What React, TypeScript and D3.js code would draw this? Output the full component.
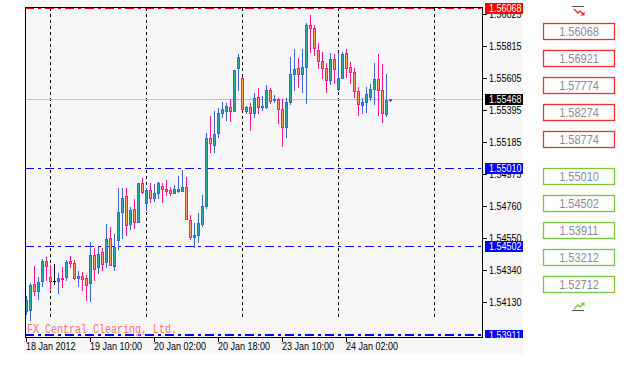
import React from "react";
import * as d3 from "d3";

// H1 bars, 18 Jan 2012 18:00 .. 24 Jan 2012 13:00
const opens = [
  1.54072, 1.54078, 1.54249, 1.54203, 1.54269, 1.54401, 1.54296, 1.54269, 1.54269, 1.54289,
  1.54296, 1.54401, 1.54388, 1.54289, 1.54302, 1.54289, 1.54256, 1.54441, 1.54361, 1.5446,
  1.54394, 1.54553, 1.54368, 1.54539, 1.54724, 1.54829, 1.54645, 1.54744, 1.54658, 1.54915,
  1.54783, 1.54869, 1.54816, 1.54849, 1.54895, 1.54876, 1.54869, 1.54849, 1.54862, 1.54862,
  1.54889, 1.54671, 1.54559, 1.54572, 1.54645, 1.54764, 1.55212, 1.55165, 1.55245, 1.55376,
  1.5539, 1.55416, 1.5539, 1.55673, 1.55607, 1.5539, 1.55416, 1.55376, 1.55482, 1.55416,
  1.55416, 1.55528, 1.55462, 1.55469, 1.55403, 1.55284, 1.55449, 1.55633, 1.55673, 1.55633,
  1.5568, 1.55956, 1.55937, 1.55792, 1.55719, 1.55673, 1.55594, 1.55732, 1.55535, 1.55607,
  1.55772, 1.5568, 1.55647, 1.55521, 1.55429, 1.55449, 1.55482, 1.55535, 1.556, 1.55528,
  1.5537, 1.5546,
];
const highs = [
  1.5417, 1.54256, 1.54368, 1.54296, 1.54414, 1.54427, 1.54375, 1.54381, 1.54322, 1.54361,
  1.54408, 1.54434, 1.54408, 1.54335, 1.54329, 1.54309, 1.54526, 1.54487, 1.54493, 1.54487,
  1.54645, 1.54625, 1.54579, 1.54882, 1.54882, 1.54882, 1.54757, 1.5481, 1.54915, 1.54948,
  1.54882, 1.54915, 1.54908, 1.54922, 1.54915, 1.54935, 1.54889, 1.54902, 1.54961, 1.55001,
  1.54955, 1.54704, 1.54651, 1.54717, 1.54836, 1.55245, 1.55357, 1.5539, 1.55409, 1.55449,
  1.55442, 1.55469, 1.5566, 1.55765, 1.55614, 1.55422, 1.55442, 1.55508, 1.55541, 1.55488,
  1.55561, 1.55541, 1.55495, 1.55475, 1.55469, 1.55475, 1.55745, 1.55798, 1.55739, 1.55798,
  1.55969, 1.56022, 1.55956, 1.55838, 1.55778, 1.55706, 1.55772, 1.55765, 1.55772, 1.55778,
  1.55798, 1.55712, 1.55673, 1.55548, 1.55475, 1.55548, 1.55567, 1.55706, 1.55765, 1.55699,
  1.55633, 1.5547,
];
const lows = [
  1.54052, 1.54012, 1.54177, 1.54151, 1.54236, 1.54276, 1.5421, 1.54249, 1.5419, 1.5423,
  1.54276, 1.54361, 1.54282, 1.54236, 1.5421, 1.54144, 1.54137, 1.54276, 1.54322, 1.54342,
  1.54361, 1.54375, 1.54342, 1.5448, 1.54553, 1.54572, 1.54612, 1.54619, 1.54658, 1.54849,
  1.54737, 1.5479, 1.54796, 1.54816, 1.5479, 1.54836, 1.54836, 1.54849, 1.54856, 1.54862,
  1.54678, 1.54546, 1.54493, 1.54526, 1.54632, 1.5475, 1.55119, 1.55119, 1.55218, 1.5535,
  1.5533, 1.55324, 1.5539, 1.55528, 1.55396, 1.55376, 1.55264, 1.5535, 1.55376, 1.55396,
  1.55409, 1.55442, 1.55449, 1.5531, 1.55159, 1.55218, 1.55436, 1.55528, 1.55548, 1.55515,
  1.55442, 1.55778, 1.55759, 1.55673, 1.55607, 1.55515, 1.55567, 1.55574, 1.55528, 1.55607,
  1.55614, 1.55574, 1.55482, 1.55363, 1.55376, 1.55383, 1.55462, 1.55436, 1.55363, 1.55317,
  1.55357, 1.55455,
];
const closes = [
  1.54144, 1.54243, 1.54203, 1.54263, 1.54401, 1.54368, 1.54269, 1.54269, 1.54289, 1.54282,
  1.54394, 1.54388, 1.54289, 1.54302, 1.54282, 1.54243, 1.54441, 1.54348, 1.54447, 1.54381,
  1.54546, 1.54375, 1.54493, 1.54724, 1.54816, 1.54638, 1.54737, 1.54658, 1.54915, 1.54856,
  1.54869, 1.54816, 1.54849, 1.54915, 1.54876, 1.54862, 1.54849, 1.54876, 1.54876, 1.54889,
  1.54678, 1.54559, 1.54572, 1.54651, 1.54764, 1.55212, 1.55179, 1.55238, 1.55376, 1.55403,
  1.55422, 1.5539, 1.5566, 1.55745, 1.55403, 1.55416, 1.55376, 1.55475, 1.55416, 1.55422,
  1.55528, 1.55455, 1.55469, 1.55403, 1.55284, 1.55449, 1.55633, 1.55666, 1.55633, 1.5568,
  1.55956, 1.55937, 1.55805, 1.55719, 1.55673, 1.55594, 1.55732, 1.55666, 1.55607, 1.55765,
  1.55673, 1.55647, 1.55521, 1.55436, 1.55449, 1.55502, 1.55535, 1.556, 1.55528, 1.55376,
  1.55462, 1.55468,
];

const priceTicks = [1.56025, 1.55815, 1.55605, 1.55395, 1.55185, 1.54975, 1.5476, 1.5455, 1.5434, 1.5413];
const timeLabels = ["18 Jan 2012", "19 Jan 10:00", "20 Jan 02:00", "20 Jan 18:00", "23 Jan 10:00", "24 Jan 02:00"];
const barsPerTimeLabel = 16;
const gridBars = [6, 30, 54, 78, 102];

const currentPrice = 1.55468;
const redLevels = [1.56068];
const blueLevels = [1.5501, 1.54502, 1.53911];

const resistance = [1.56068, 1.56921, 1.57774, 1.58274, 1.58774];
const support = [1.5501, 1.54502, 1.53911, 1.53212, 1.52712];

const BULL_LINE = "#3f63e0";
const BULL_FILL = "#27b0a0";
const BEAR_LINE = "#ff1493";
const BEAR_FILL = "#f4a060";
const SANS = "'Liberation Sans', Arial, sans-serif";

const left = 25, right = 483, top = 7, bottom = 337;

const y = d3.scaleLinear().domain([1.53899, 1.56074]).range([bottom, top]);
const x = d3.scaleLinear().domain([0, 1]).range([26, 30]);
const ry = (v: number) => Math.round(y(v));
const fmt = d3.format(".5f");

const Txt = ({ x, y, s = 0.82, size = 11, fill = "#000", anchor = "start", children }: any) => (
  <text
    transform={`translate(${x},${y}) scale(${s},1)`}
    fontFamily={SANS}
    fontSize={size}
    fill={fill}
    textAnchor={anchor}
  >
    {children}
  </text>
);

const Candles = () => (
  <g>
    {opens.map((o, i) => {
      const c = closes[i];
      const cx = Math.round(x(i));
      const yh = ry(highs[i]);
      const yl = ry(lows[i]);
      if (o === c) {
        const yb = ry(o);
        return (
          <g key={i}>
            <rect x={cx} y={yh} width={1} height={yl - yh + 1} fill="#000" />
            <rect x={cx - 1} y={yb} width={3} height={1} fill="#000" />
          </g>
        );
      }
      const bull = c > o;
      const line = bull ? BULL_LINE : BEAR_LINE;
      const fill = bull ? BULL_FILL : BEAR_FILL;
      const bt = ry(Math.max(o, c));
      const bb = ry(Math.min(o, c));
      return (
        <g key={i}>
          <rect x={cx} y={yh} width={1} height={yl - yh + 1} fill={line} />
          <rect x={cx - 1} y={bt} width={3} height={bb - bt + 1} fill={line} />
          {bb - bt >= 2 && <rect x={cx} y={bt + 1} width={1} height={bb - bt - 1} fill={fill} />}
        </g>
      );
    })}
  </g>
);

const App = () => {
  const priceY = ry(currentPrice);
  return (
    <div style={{ position: "fixed", left: 0, top: 0 }}>
      <svg width={633} height={372} style={{ display: "block", background: "#fff" }}>
        <defs>
          <clipPath id="axisClip">
            <rect x={0} y={0} width={633} height={bottom + 1} />
          </clipPath>
        </defs>
        <rect x={24} y={0} width={499} height={354} fill="#f7f7f7" />

        {/* vertical grid */}
        {gridBars.map((b) => (
          <line
            key={b}
            x1={Math.round(x(b)) + 0.5}
            x2={Math.round(x(b)) + 0.5}
            y1={top + 1}
            y2={318}
            stroke="#000"
            strokeDasharray="3 3"
          />
        ))}

        {/* level lines */}
        {redLevels.map((v) => (
          <line key={v} x1={left} x2={right} y1={ry(v) + 0.5} y2={ry(v) + 0.5} stroke="#ff0000" strokeDasharray="9 4 3 4" />
        ))}
        {blueLevels.map((v, i) => (
          <line
            key={v}
            x1={left}
            x2={right}
            y1={ry(v) + (i === blueLevels.length - 1 ? 0 : 0.5)}
            y2={ry(v) + (i === blueLevels.length - 1 ? 0 : 0.5)}
            stroke="#0000ff"
            strokeWidth={i === blueLevels.length - 1 ? 2 : 1}
            strokeDasharray="9 4 3 4"
          />
        ))}
        <line x1={left} x2={right} y1={priceY + 0.5} y2={priceY + 0.5} stroke="#c0c0c0" />

        <Candles />

        <text x={27} y={333} fontFamily="'Liberation Mono', monospace" fontSize={12} fill="#ff7070" textLength={150} lengthAdjust="spacingAndGlyphs">
          FX Central Clearing, Ltd.
        </text>

        {/* frame */}
        <rect x={left + 0.5} y={top + 0.5} width={right - left - 1} height={bottom - top} fill="none" stroke="#000" />

        {/* price axis */}
        {priceTicks.map((t) => (
          <g key={t}>
            <rect x={right} y={ry(t)} width={4} height={1} fill="#000" />
            <Txt x={489} y={ry(t) + 4}>{fmt(t)}</Txt>
          </g>
        ))}

        {/* time axis */}
        {timeLabels.map((l, k) => {
          const tx = Math.round(x(k * barsPerTimeLabel));
          return (
            <g key={l}>
              <rect x={tx} y={bottom + 1} width={1} height={4} fill="#000" />
              <Txt x={tx} y={350}>{l}</Txt>
            </g>
          );
        })}

        {/* level labels */}
        <g clipPath="url(#axisClip)">
          {redLevels.map((v) => (
            <g key={v}>
              <rect x={485} y={ry(v) - 5} width={38} height={11} fill="#ff0000" />
              <Txt x={489} y={ry(v) + 4} fill="#fff">{fmt(v)}</Txt>
            </g>
          ))}
          {blueLevels.map((v) => (
            <g key={v}>
              <rect x={485} y={ry(v) - 5} width={38} height={11} fill="#0000ff" />
              <Txt x={489} y={ry(v) + 4} fill="#fff">{fmt(v)}</Txt>
            </g>
          ))}
          <rect x={485} y={priceY - 5} width={38} height={11} fill="#000" />
          <Txt x={489} y={priceY + 4} fill="#fff">{fmt(currentPrice)}</Txt>
        </g>

        {/* right panel */}
        <line x1={572} x2={584} y1={6.5} y2={6.5} stroke="#555" />
        <path d="M574,9 L578,13 L580,11 L583.5,14.5" fill="none" stroke="#ff2020" strokeWidth={1.3} />
        <path d="M584.5,15.5 L584.5,11.5 L580.5,15.5 Z" fill="#ff2020" />
        {resistance.map((v, i) => {
          const bt = 23 + i * 27;
          return (
            <g key={v}>
              <rect x={543.5} y={bt + 0.5} width={71} height={16} fill="#fff" stroke="#ff2a2a" strokeWidth={1.3} />
              <Txt x={579} y={bt + 13} size={12.5} s={0.88} fill="#8a8a98" anchor="middle">{fmt(v)}</Txt>
            </g>
          );
        })}
        {support.map((v, i) => {
          const bt = 168 + i * 27;
          return (
            <g key={v}>
              <rect x={543.5} y={bt + 0.5} width={71} height={16} fill="#fff" stroke="#7cc43c" strokeWidth={1.3} />
              <Txt x={579} y={bt + 13} size={12.5} s={0.88} fill="#8a8a98" anchor="middle">{fmt(v)}</Txt>
            </g>
          );
        })}
        <line x1={572} x2={584} y1={310.5} y2={310.5} stroke="#555" />
        <path d="M574,309 L578,305 L580,307 L583.5,303.5" fill="none" stroke="#7cc43c" strokeWidth={1.3} />
        <path d="M584.5,302.5 L584.5,306.5 L580.5,302.5 Z" fill="#7cc43c" />
      </svg>
    </div>
  );
};

export default App;
